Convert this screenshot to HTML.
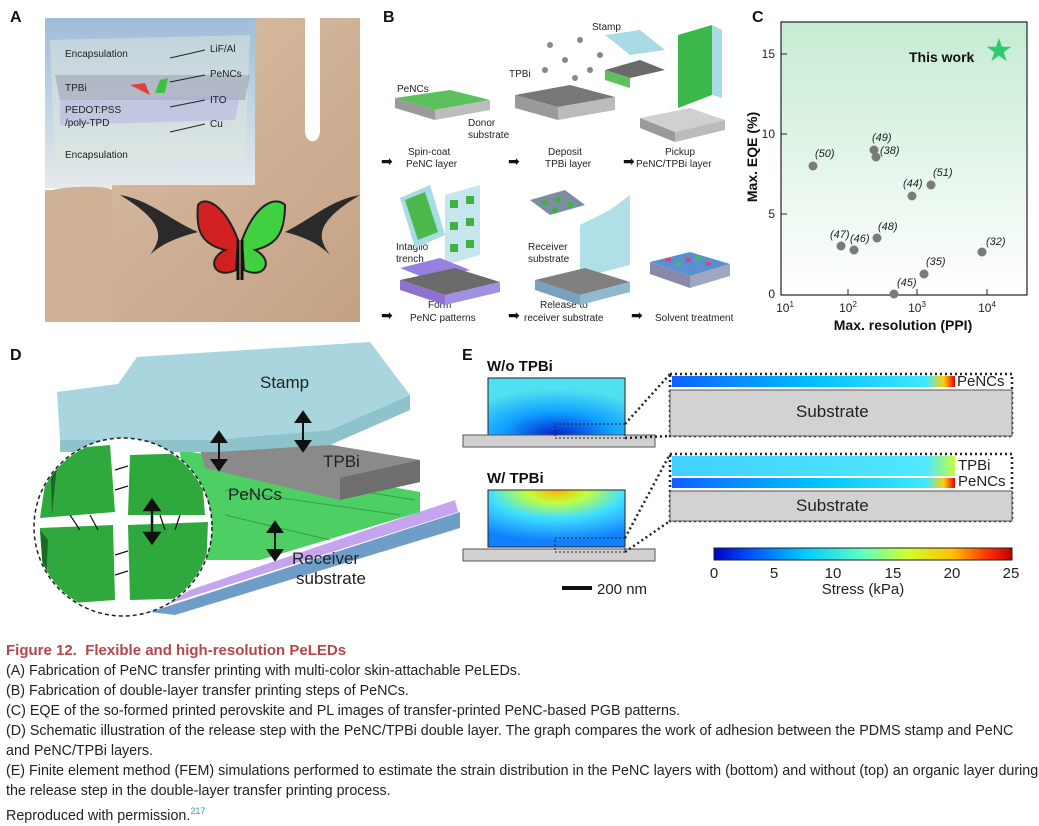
<!DOCTYPE html>
<html><head><meta charset="utf-8"><style>
body{margin:0;width:1039px;height:826px;background:#fff;overflow:hidden;font-family:"Liberation Sans",Arial,sans-serif}
.cap{position:absolute;left:6px;font-size:14.3px;color:#222;white-space:nowrap;line-height:20px}
</style></head><body>
<svg width="1039" height="630" style="position:absolute;left:0;top:0" font-family="Liberation Sans, Arial, sans-serif">
<defs>
<linearGradient id="gC" x1="0" y1="0" x2="0" y2="1"><stop offset="0" stop-color="#c6ebd2"/><stop offset="1" stop-color="#ffffff"/></linearGradient>
<linearGradient id="skin" x1="0" y1="0" x2="1" y2="1"><stop offset="0" stop-color="#dcc3ab"/><stop offset="1" stop-color="#c4a184"/></linearGradient>
<linearGradient id="sky" x1="0" y1="0" x2="0" y2="1"><stop offset="0" stop-color="#9fbcd8"/><stop offset="1" stop-color="#e6eaec"/></linearGradient>
<linearGradient id="jet" x1="0" y1="0" x2="1" y2="0"><stop offset="0" stop-color="#0000c8"/><stop offset="0.12" stop-color="#0050ff"/><stop offset="0.3" stop-color="#00c8ff"/><stop offset="0.5" stop-color="#60ffc0"/><stop offset="0.65" stop-color="#d0ff30"/><stop offset="0.8" stop-color="#ffc000"/><stop offset="0.92" stop-color="#ff3000"/><stop offset="1" stop-color="#c00000"/></linearGradient>
<linearGradient id="bar1" x1="0" y1="0" x2="1" y2="0"><stop offset="0" stop-color="#1060ff"/><stop offset="0.5" stop-color="#00c0ff"/><stop offset="0.9" stop-color="#40e8ff"/><stop offset="0.96" stop-color="#ffd000"/><stop offset="1" stop-color="#e00000"/></linearGradient>
<linearGradient id="bar2" x1="0" y1="0" x2="1" y2="0"><stop offset="0" stop-color="#40d0ff"/><stop offset="0.9" stop-color="#50e8ff"/><stop offset="1" stop-color="#c0ff40"/></linearGradient>
<radialGradient id="fem1" cx="0.5" cy="1" r="0.8"><stop offset="0" stop-color="#0020d0"/><stop offset="0.5" stop-color="#10a0ff"/><stop offset="1" stop-color="#50e0f0"/></radialGradient>
<radialGradient id="fem2" cx="0.5" cy="0" r="0.9"><stop offset="0" stop-color="#ffb000"/><stop offset="0.25" stop-color="#c0ff40"/><stop offset="0.55" stop-color="#40e0ff"/><stop offset="1" stop-color="#1080ff"/></radialGradient>
</defs>
<g font-weight="bold" font-size="16" fill="#111">
<text x="10" y="22">A</text><text x="383" y="22">B</text><text x="752" y="22">C</text><text x="10" y="360">D</text><text x="462" y="360">E</text>
</g>
<!-- Panel A -->
<rect x="45" y="18" width="210" height="170" fill="url(#sky)"/>
<path d="M45 190 L112 190 L112 185 L255 185 L255 18 L305 18 L305 130 C305 145 320 145 320 130 L320 18 L360 18 L360 322 L45 322 Z" fill="url(#skin)"/>
<path d="M45 195 C45 185 110 185 112 190 L112 322 L45 322 Z" fill="#cfb296"/>
<path d="M50 40 L250 35 L245 160 L55 165 Z" fill="#dde8dd" opacity="0.5"/>
<path d="M55 75 L250 75 L245 100 L60 100 Z" fill="#8888a0" opacity="0.4"/>
<path d="M60 100 L240 95 L235 120 L60 125 Z" fill="#b0a8e0" opacity="0.45"/>
<g font-size="10" fill="#222">
<text x="65" y="57">Encapsulation</text><text x="210" y="52">LiF/Al</text>
<text x="65" y="91">TPBi</text><text x="210" y="77">PeNCs</text>
<text x="65" y="113">PEDOT:PSS</text><text x="65" y="126">/poly-TPD</text><text x="210" y="103">ITO</text><text x="210" y="127">Cu</text>
<text x="65" y="158">Encapsulation</text>
</g>
<path d="M130 85 L145 83 L150 95 Z" fill="#e04040"/><path d="M160 80 L168 78 L165 93 L155 93 Z" fill="#40c040"/>
<g stroke="#222" stroke-width="1"><line x1="170" y1="58" x2="205" y2="50"/><line x1="170" y1="82" x2="205" y2="75"/><line x1="170" y1="107" x2="205" y2="100"/><line x1="170" y1="132" x2="205" y2="124"/></g>
<path d="M120 195 C150 200 170 220 198 232 C175 238 160 245 150 255 C160 240 170 225 120 195 Z" fill="#2a2a2a"/>
<path d="M360 195 C330 200 310 220 285 232 C308 238 320 245 330 255 C320 240 310 225 360 195 Z" fill="#2a2a2a"/>
<path d="M238 240 C225 205 205 195 198 205 C195 235 205 245 225 250 C205 260 215 280 236 270 Z" fill="#d02020" stroke="#222" stroke-width="2"/>
<path d="M242 240 C255 205 275 195 285 205 C285 235 275 245 255 250 C275 260 265 280 244 270 Z" fill="#40d040" stroke="#222" stroke-width="2"/>
<path d="M238 240 L238 280 M242 240 L242 280" stroke="#111" stroke-width="3"/>
<!-- Panel B -->
<g font-size="10" fill="#222">
<text x="397" y="92">PeNCs</text><text x="468" y="126">Donor</text><text x="468" y="138">substrate</text>
<text x="408" y="155">Spin-coat</text><text x="406" y="167">PeNC layer</text>
<text x="509" y="77">TPBi</text><text x="548" y="155">Deposit</text><text x="545" y="167">TPBi layer</text>
<text x="592" y="30">Stamp</text><text x="665" y="155">Pickup</text><text x="636" y="167">PeNC/TPBi layer</text>
<text x="396" y="250">Intaglio</text><text x="396" y="262">trench</text><text x="528" y="250">Receiver</text><text x="528" y="262">substrate</text>
<text x="428" y="308">Form</text><text x="410" y="321">PeNC patterns</text>
<text x="540" y="308">Release to</text><text x="524" y="321">receiver substrate</text>
<text x="655" y="321">Solvent treatment</text>
</g>
<g font-size="14" fill="#111"><text x="381" y="166">➡</text><text x="508" y="166">➡</text><text x="623" y="166">➡</text><text x="381" y="320">➡</text><text x="508" y="320">➡</text><text x="631" y="320">➡</text></g>
<path d="M395 98 L450 90 L490 100 L435 110 Z" fill="#5cc05c"/><path d="M395 98 L435 110 L435 120 L395 108 Z" fill="#9a9a9a"/><path d="M435 110 L490 100 L490 110 L435 120 Z" fill="#bdbdbd"/>
<path d="M515 95 L570 85 L615 97 L558 107 Z" fill="#777"/><path d="M515 95 L558 107 L558 120 L515 108 Z" fill="#9a9a9a"/><path d="M558 107 L615 97 L615 110 L558 120 Z" fill="#bbb"/>
<g fill="#888"><circle cx="550" cy="45" r="3"/><circle cx="565" cy="60" r="3"/><circle cx="580" cy="40" r="3"/><circle cx="590" cy="70" r="3"/><circle cx="545" cy="70" r="3"/><circle cx="600" cy="55" r="3"/><circle cx="575" cy="78" r="3"/></g>
<path d="M605 35 L640 30 L665 50 L630 55 Z" fill="#a9dbe4"/>
<path d="M605 70 L640 60 L665 70 L630 78 Z" fill="#6a6a6a"/><path d="M605 70 L630 78 L630 88 L605 80 Z" fill="#5cc05c"/>
<path d="M678 35 L712 25 L712 95 L678 108 Z" fill="#3cb84a"/><path d="M712 25 L722 30 L722 98 L712 95 Z" fill="#a9dbe4"/>
<path d="M640 118 L690 108 L725 120 L675 132 Z" fill="#d0d0d0"/><path d="M640 118 L675 132 L675 142 L640 128 Z" fill="#9a9a9a"/><path d="M675 132 L725 120 L725 130 L675 142 Z" fill="#bbb"/>
<path d="M400 198 L430 185 L445 235 L415 248 Z" fill="#a9dbe4"/><path d="M405 200 L425 192 L438 232 L418 240 Z" fill="#4cb84c"/>
<path d="M445 195 L480 185 L480 255 L445 265 Z" fill="#c4e6ec"/>
<g fill="#40b040"><rect x="450" y="200" width="8" height="8"/><rect x="466" y="196" width="8" height="8"/><rect x="450" y="222" width="8" height="8"/><rect x="466" y="218" width="8" height="8"/><rect x="450" y="244" width="8" height="8"/><rect x="466" y="240" width="8" height="8"/></g>
<path d="M400 268 L440 258 L470 270 L430 280 Z" fill="#9880e0"/>
<path d="M400 280 L455 268 L500 282 L445 295 Z" fill="#6a6a6a"/><path d="M400 280 L445 295 L445 305 L400 290 Z" fill="#9070d0"/><path d="M445 295 L500 282 L500 292 L445 305 Z" fill="#a090e0"/>
<path d="M530 200 L565 190 L585 205 L550 215 Z" fill="#7a8ea0"/><g fill="#40b040"><circle cx="545" cy="203" r="3"/><circle cx="558" cy="200" r="3"/><circle cx="570" cy="205" r="3"/><circle cx="555" cy="210" r="3"/></g>
<path d="M580 225 L610 210 L630 195 L630 265 L580 278 Z" fill="#a9dbe4" opacity="0.9"/>
<path d="M535 280 L585 268 L630 282 L580 295 Z" fill="#808080"/><path d="M535 280 L580 295 L580 305 L535 290 Z" fill="#7aa0c0"/><path d="M580 295 L630 282 L630 292 L580 305 Z" fill="#90b8d0"/>
<path d="M650 262 L690 252 L730 264 L690 276 Z" fill="#5a90d0"/>
<g fill="#e04070" opacity="0.8"><rect x="665" y="258" width="6" height="4"/><rect x="685" y="258" width="6" height="4"/><rect x="705" y="262" width="6" height="4"/></g>
<g fill="#40c060" opacity="0.8"><rect x="675" y="262" width="6" height="4"/><rect x="695" y="256" width="6" height="4"/></g>
<path d="M650 262 L690 276 L690 288 L650 274 Z" fill="#8888aa"/><path d="M690 276 L730 264 L730 276 L690 288 Z" fill="#9fa8c0"/>
<!-- Panel C -->
<rect x="781" y="22" width="246" height="273" fill="url(#gC)"/>
<rect x="781" y="22" width="246" height="273" fill="none" stroke="#222" stroke-width="1.2"/>
<g stroke="#222"><line x1="781" y1="214" x2="787" y2="214"/><line x1="781" y1="134" x2="787" y2="134"/><line x1="781" y1="54" x2="787" y2="54"/><line x1="848" y1="295" x2="848" y2="289"/><line x1="917" y1="295" x2="917" y2="289"/><line x1="987" y1="295" x2="987" y2="289"/></g>
<g font-size="12" fill="#222" text-anchor="end"><text x="775" y="298">0</text><text x="775" y="218">5</text><text x="775" y="138">10</text><text x="775" y="58">15</text></g>
<g font-size="12" fill="#222" text-anchor="middle"><text x="785" y="312">10<tspan font-size="8" dy="-5">1</tspan></text><text x="848" y="312">10<tspan font-size="8" dy="-5">2</tspan></text><text x="917" y="312">10<tspan font-size="8" dy="-5">3</tspan></text><text x="987" y="312">10<tspan font-size="8" dy="-5">4</tspan></text></g>
<text x="903" y="330" font-size="14" font-weight="bold" text-anchor="middle" fill="#111">Max. resolution (PPI)</text>
<text transform="translate(757,157) rotate(-90)" font-size="14" font-weight="bold" text-anchor="middle" fill="#111">Max. EQE (%)</text>
<text x="909" y="62" font-size="14" font-weight="bold" fill="#111">This work</text>
<text x="999" y="61" font-size="32" fill="#2ecc71" text-anchor="middle">★</text>
<g fill="#7a7a7a"><circle cx="813" cy="166" r="4.5"/><circle cx="874" cy="150" r="4.5"/><circle cx="876" cy="157" r="4.5"/><circle cx="912" cy="196" r="4.5"/><circle cx="931" cy="185" r="4.5"/><circle cx="841" cy="246" r="4.5"/><circle cx="854" cy="250" r="4.5"/><circle cx="877" cy="238" r="4.5"/><circle cx="924" cy="274" r="4.5"/><circle cx="894" cy="294" r="4.5"/><circle cx="982" cy="252" r="4.5"/></g>
<g font-size="11" font-style="italic" fill="#222"><text x="815" y="157">(50)</text><text x="872" y="141">(49)</text><text x="880" y="154">(38)</text><text x="903" y="187">(44)</text><text x="933" y="176">(51)</text><text x="830" y="238">(47)</text><text x="850" y="242">(46)</text><text x="878" y="230">(48)</text><text x="926" y="265">(35)</text><text x="897" y="286">(45)</text><text x="986" y="245">(32)</text></g>
<!-- Panel D -->
<path d="M150 612 L460 512 L460 528 L175 615 Z" fill="#6e9ec8"/>
<path d="M190 590 L455 500 L458 512 L165 605 Z" fill="#c5a4f0"/>
<path d="M180 450 L420 492 L420 512 L260 560 L185 560 Z" fill="#4dcf64"/>
<g stroke="#2a8a3a" stroke-width="1" opacity="0.7"><line x1="230" y1="470" x2="415" y2="500"/><line x1="225" y1="490" x2="400" y2="515"/><line x1="225" y1="515" x2="330" y2="540"/></g>
<path d="M200 450 L255 432 L420 460 L420 482 L340 500 L205 468 Z" fill="#8a8a8a"/>
<path d="M340 478 L420 460 L420 482 L340 500 Z" fill="#6e6e6e"/>
<path d="M57 392 L118 384 L137 357 L370 342 L410 395 L330 430 L215 440 L60 440 Z" fill="#a9d6de"/>
<path d="M60 440 L215 440 L330 430 L410 395 L410 410 L330 445 L215 452 L60 452 Z" fill="#8fc3cc"/>
<text x="260" y="388" font-size="17" fill="#222">Stamp</text>
<text x="323" y="467" font-size="17" fill="#222">TPBi</text>
<text x="228" y="500" font-size="17" fill="#222">PeNCs</text>
<text x="292" y="564" font-size="17" fill="#222">Receiver</text>
<text x="296" y="584" font-size="17" fill="#222">substrate</text>
<g stroke="#111" stroke-width="2" fill="#111">
<line x1="219" y1="440" x2="219" y2="462"/><path d="M212 442 L219 432 L226 442 Z"/><path d="M212 460 L219 470 L226 460 Z"/>
<line x1="303" y1="420" x2="303" y2="443"/><path d="M296 422 L303 412 L310 422 Z"/><path d="M296 441 L303 451 L310 441 Z"/>
<line x1="275" y1="530" x2="275" y2="552"/><path d="M268 532 L275 522 L282 532 Z"/><path d="M268 550 L275 560 L282 550 Z"/>
</g>
<circle cx="123" cy="527" r="89" fill="#fff" stroke="#222" stroke-width="1.5" stroke-dasharray="4,3"/>
<clipPath id="cc"><circle cx="123" cy="527" r="88"/></clipPath>
<g clip-path="url(#cc)">
<path d="M50 450 L110 445 L115 512 L40 518 Z" fill="#2fa83e"/><path d="M130 455 L200 453 L205 515 L128 515 Z" fill="#2fa83e"/>
<path d="M40 528 L113 525 L115 600 L45 605 Z" fill="#2fa83e"/><path d="M128 525 L208 522 L205 598 L130 600 Z" fill="#2fa83e"/>
<path d="M50 450 L58 455 L52 515 Z" fill="#1a6a24"/><path d="M40 530 L48 540 L45 600 Z" fill="#1a6a24"/>
<g stroke="#111" stroke-width="1.2"><line x1="70" y1="515" x2="80" y2="530"/><line x1="90" y1="515" x2="98" y2="530"/><line x1="160" y1="515" x2="165" y2="530"/><line x1="180" y1="515" x2="175" y2="530"/><line x1="115" y1="470" x2="128" y2="466"/><line x1="115" y1="490" x2="128" y2="486"/><line x1="115" y1="555" x2="128" y2="551"/><line x1="115" y1="575" x2="128" y2="571"/></g>
</g>
<g stroke="#111" stroke-width="2.5" fill="#111"><line x1="152" y1="508" x2="152" y2="535"/><path d="M145 510 L152 500 L159 510 Z"/><path d="M145 533 L152 543 L159 533 Z"/></g>
<!-- Panel E -->
<text x="487" y="371" font-size="15" font-weight="bold" fill="#111">W/o TPBi</text>
<text x="487" y="483" font-size="15" font-weight="bold" fill="#111">W/ TPBi</text>
<rect x="488" y="378" width="137" height="57" fill="url(#fem1)" stroke="#222"/>
<rect x="463" y="435" width="192" height="12" fill="#d0d0d0" stroke="#555"/>
<rect x="488" y="490" width="137" height="57" fill="url(#fem2)" stroke="#222"/>
<rect x="463" y="549" width="192" height="12" fill="#d0d0d0" stroke="#555"/>
<rect x="555" y="424" width="70" height="14" fill="none" stroke="#222" stroke-dasharray="2,2"/>
<rect x="555" y="538" width="70" height="14" fill="none" stroke="#222" stroke-dasharray="2,2"/>
<g stroke="#222" stroke-width="2.5" stroke-dasharray="2,3" fill="none">
<rect x="670" y="374" width="342" height="62"/><rect x="670" y="454" width="342" height="67"/>
<line x1="625" y1="424" x2="670" y2="374"/><line x1="625" y1="438" x2="670" y2="436"/>
<line x1="625" y1="538" x2="670" y2="454"/><line x1="625" y1="552" x2="670" y2="521"/>
</g>
<rect x="672" y="376" width="283" height="11" fill="url(#bar1)"/>
<rect x="670" y="390" width="342" height="46" fill="#d2d2d2" stroke="#555"/>
<rect x="672" y="456" width="283" height="20" fill="url(#bar2)"/>
<rect x="672" y="478" width="283" height="10" fill="url(#bar1)"/>
<rect x="670" y="491" width="342" height="30" fill="#d2d2d2" stroke="#555"/>
<g font-size="15" fill="#222"><text x="957" y="386">PeNCs</text><text x="958" y="470">TPBi</text><text x="958" y="486">PeNCs</text><text x="796" y="417" font-size="17">Substrate</text><text x="796" y="511" font-size="17">Substrate</text></g>
<rect x="714" y="548" width="298" height="12" fill="url(#jet)" stroke="#222"/>
<g font-size="15" fill="#222" text-anchor="middle"><text x="714" y="578">0</text><text x="774" y="578">5</text><text x="833" y="578">10</text><text x="893" y="578">15</text><text x="952" y="578">20</text><text x="1011" y="578">25</text><text x="863" y="594">Stress (kPa)</text></g>
<rect x="562" y="586" width="30" height="4" fill="#111"/>
<text x="597" y="594" font-size="15" fill="#222">200 nm</text>
</svg>
<div class="cap" style="top:641px;color:#b4474a;font-weight:bold;font-size:15px">Figure 12.&nbsp; Flexible and high-resolution PeLEDs</div>
<div class="cap" style="top:661px">(A) Fabrication of PeNC transfer printing with multi-color skin-attachable PeLEDs.</div>
<div class="cap" style="top:681px">(B) Fabrication of double-layer transfer printing steps of PeNCs.</div>
<div class="cap" style="top:701px">(C) EQE of the so-formed printed perovskite and PL images of transfer-printed PeNC-based PGB patterns.</div>
<div class="cap" style="top:721px">(D) Schematic illustration of the release step with the PeNC/TPBi double layer. The graph compares the work of adhesion between the PDMS stamp and PeNC</div>
<div class="cap" style="top:741px">and PeNC/TPBi layers.</div>
<div class="cap" style="top:761px">(E) Finite element method (FEM) simulations performed to estimate the strain distribution in the PeNC layers with (bottom) and without (top) an organic layer during</div>
<div class="cap" style="top:781px">the release step in the double-layer transfer printing process.</div>
<div class="cap" style="top:801px">Reproduced with permission.<sup style="color:#2a9fd6;font-size:9px">217</sup></div>
</body></html>
